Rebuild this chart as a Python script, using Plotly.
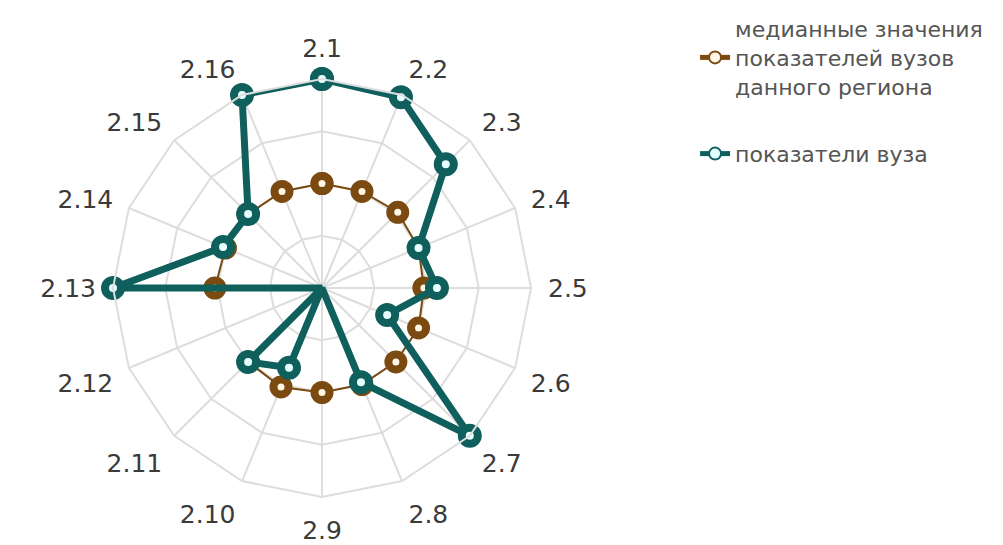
import plotly.graph_objects as go

categories = ["2.1", "2.2", "2.3", "2.4", "2.5", "2.6", "2.7", "2.8",
              "2.9", "2.10", "2.11", "2.12", "2.13", "2.14", "2.15", "2.16"]
median_values = [2.0, 2.0, 2.05, 2.0, 1.95, 2.0, 2.0, 2.0,
                 2.0, 2.05, 2.0, None, 2.05, 2.0, 2.0, 2.0]
uni_values = [4.0, 3.95, 3.35, 2.0, 2.2, 1.35, 4.0, 1.95,
              0.0, 1.65, 2.0, 0.0, 4.0, 2.05, 2.0, 4.0]
median_name = "медианные значения<br>показателей вузов<br>данного региона"
uni_name = "показатели вуза"

teal = "#0f5f5c"
brown = "#7a4a10"

fig = go.Figure()
fig.add_trace(go.Scatterpolar(
    r=median_values + [median_values[0]],
    theta=categories + [categories[0]],
    mode="lines+markers", name=median_name, legendgroup="a",
    connectgaps=False, cliponaxis=False,
    line=dict(color=brown, width=2),
    marker=dict(symbol="circle", size=15, color="#fff6e6",
                line=dict(color=brown, width=8)),
))
fig.add_trace(go.Scatterpolar(
    r=uni_values + [uni_values[0]],
    theta=categories + [categories[0]],
    mode="lines+markers", name=uni_name, legendgroup="b",
    cliponaxis=False,
    line=dict(color=teal, width=7),
    marker=dict(symbol="circle", size=16, color="#e6ffff",
                line=dict(color=teal, width=8)),
))

R = 209
cx, cy = 314, 280
W, H = 1003, 545
fig.update_layout(
    width=W, height=H,
    margin=dict(l=0, r=0, t=0, b=0),
    paper_bgcolor="white", plot_bgcolor="white",
    font=dict(family="DejaVu Sans", color="#444"),
    polar=dict(
        domain=dict(x=[(cx - R) / W, (cx + R) / W],
                    y=[(H - cy - R) / H, (H - cy + R) / H]),
        gridshape="linear",
        bgcolor="white",
        radialaxis=dict(range=[0, 4], tickvals=[1, 2, 3, 4],
                        showticklabels=False, ticks="", showline=False,
                        gridcolor="#dddddd", gridwidth=2),
        angularaxis=dict(rotation=90, direction="clockwise",
                         type="category", categoryarray=categories,
                         gridcolor="#dddddd", gridwidth=2,
                         linecolor="#dddddd", linewidth=2,
                         ticks="outside", ticklen=11, tickcolor="rgba(0,0,0,0)",
                         tickfont=dict(size=25, color="#3a3a3a",
                                       family="DejaVu Sans")),
    ),
    showlegend=True,
    legend=dict(x=0.685, y=1.0, xanchor="left", yanchor="top",
                font=dict(size=22, color="#555", family="DejaVu Sans"),
                tracegroupgap=36, itemsizing="constant",
                bgcolor="rgba(0,0,0,0)"),
)
fig.write_html("out.html")
